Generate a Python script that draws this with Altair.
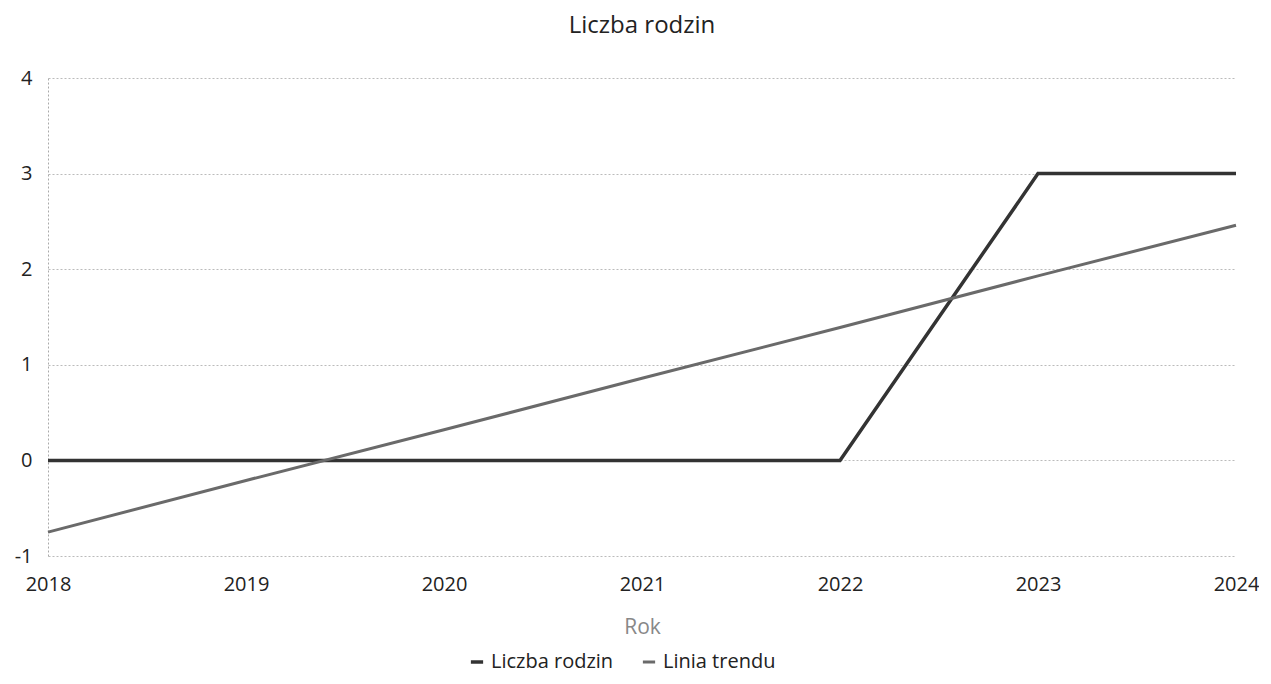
import altair as alt
import pandas as pd

years = ["2018", "2019", "2020", "2021", "2022", "2023", "2024"]
liczba_rodzin = [0, 0, 0, 0, 0, 3, 3]
linia_trendu = [-0.75, -0.21, 0.32, 0.86, 1.39, 1.93, 2.46]
series_names = ["Liczba rodzin", "Linia trendu"]

rows = []
for name, vals in zip(series_names, [liczba_rodzin, linia_trendu]):
    for y, v in zip(years, vals):
        rows.append({"Rok": y, "value": v, "series": name})
df = pd.DataFrame(rows)

FONT = "Open Sans"

chart = alt.Chart(df).mark_line().encode(
    x=alt.X("Rok:O", sort=years,
            scale=alt.Scale(type="point", padding=0),
            axis=alt.Axis(title="Rok", labelAngle=0, labelFontSize=20, labelColor="#222",
                          labelPadding=18, titleFontSize=21, titleColor="#888",
                          titleFontWeight="normal", titlePadding=22, domain=False,
                          ticks=False, grid=False, labelFont=FONT, titleFont=FONT)),
    y=alt.Y("value:Q", scale=alt.Scale(domain=[-1, 4], nice=False),
            axis=alt.Axis(title=None, values=[-1, 0, 1, 2, 3, 4], labelFontSize=20,
                          labelExpr="replace(datum.label, '\u2212', '-')",
                          labelColor="#222", labelPadding=16, domain=True,
                          domainColor="#aaa", domainDash=[2, 2], ticks=False,
                          grid=True, gridColor="#bbb", gridDash=[2, 2],
                          labelFont=FONT)),
    color=alt.Color("series:N", scale=alt.Scale(domain=series_names, range=["#333333", "#6a6a6a"]),
                    legend=alt.Legend(title=None, orient="none", legendX=419, legendY=574,
                                      direction="horizontal",
                                      symbolType="stroke", symbolStrokeWidth=3.5, symbolSize=150,
                                      labelFontSize=20, labelColor="#222", labelFont=FONT,
                                      columnPadding=22)),
    strokeWidth=alt.StrokeWidth("series:N", scale=alt.Scale(domain=series_names, range=[3.5, 3]),
                                legend=None),
).properties(
    width=1188, height=478,
    title=alt.TitleParams("Liczba rodzin", fontSize=24, font=FONT, fontWeight="normal",
                          color="#222", offset=30),
    padding={"left": 6, "top": 6, "right": 0, "bottom": 4},
).configure_view(stroke=None)

chart.save("out.html", embed_options={"renderer": "svg", "actions": False})
